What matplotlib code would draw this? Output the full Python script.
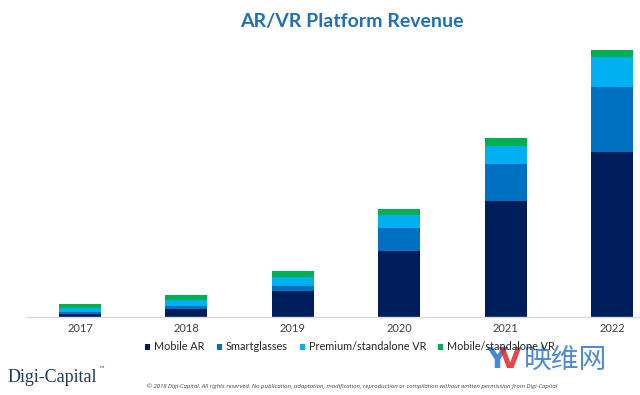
import matplotlib
matplotlib.use("Agg")
import matplotlib.pyplot as plt
from matplotlib.patches import Patch

years = ["2017", "2018", "2019", "2020", "2021", "2022"]
series = ["Mobile AR", "Smartglasses", "Premium/standalone VR", "Mobile/standalone VR"]
mobile_ar = [2.7, 8.3, 26.3, 66.0, 115.7, 165.4]
smartglasses = [2.0, 2.4, 4.4, 23.0, 37.3, 64.3]
premium_vr = [4.6, 6.0, 9.3, 12.7, 18.4, 30.0]
mobile_vr = [3.4, 5.0, 6.3, 6.7, 7.3, 7.0]
colors = ["#001d5b", "#0070c0", "#00b0f0", "#00b050"]

W, H = 640, 395
fig = plt.figure(figsize=(W / 100, H / 100), dpi=100)
fig.patch.set_facecolor("white")

ax = fig.add_axes([26.8 / W, 78 / H, 638.4 / W, 300 / H])
x = list(range(len(years)))
bottom = [0.0] * len(years)
for vals, c in zip([mobile_ar, smartglasses, premium_vr, mobile_vr], colors):
    ax.bar(x, vals, bottom=bottom, width=0.395, color=c, edgecolor="none")
    bottom = [b + v for b, v in zip(bottom, vals)]

ax.set_xlim(-0.5, 5.5)
ax.set_ylim(0, 300)
for s in ["top", "right", "left"]:
    ax.spines[s].set_visible(False)
ax.spines["bottom"].set_color("#d9d9d9")
ax.spines["bottom"].set_linewidth(1.0)
ax.set_yticks([])
ax.set_xticks(x)
ax.set_xticklabels(years, fontsize=8, color="#404040", family="Lato")
ax.tick_params(axis="x", length=0, pad=4)

fig.text(352 / W, 1 - 22 / H, "AR/VR Platform Revenue", ha="center", va="center",
         fontsize=14, fontweight="bold", color="#1f6fb9", family="Lato")

handles = [Patch(facecolor=c, edgecolor="none") for c in colors]
fig.legend(handles, series, loc="center", bbox_to_anchor=(350 / W, 1 - 347 / H),
           ncol=4, frameon=False, handlelength=0.5, handleheight=0.5,
           handletextpad=0.35, columnspacing=1.1, prop={"family": "Lato", "size": 7.8},
           labelcolor="#262626")

fig.text(8 / W, 1 - 378 / H, "Digi-Capital", ha="left", va="center", fontsize=13,
         color="#1d3a57", family="Liberation Serif")
fig.text(98.5 / W, 1 - 370 / H, "™", ha="left", va="center", fontsize=4.5,
         color="#1d3a57", family="DejaVu Sans")
fig.text(352 / W, 1 - 386 / H,
         "© 2018 Digi-Capital. All rights reserved. No publication, adaptation, modification, reproduction or compilation without written permission from Digi-Capital",
         ha="center", va="center", fontsize=4.3, style="italic", color="#404040",
         family="Open Sans")

# watermark
fig.text(497 / W, 1 - 360 / H, "Y", ha="center", va="center", fontsize=21,
         fontweight="bold", color="#2f7fd0", family="DejaVu Sans", alpha=0.9)
fig.text(510 / W, 1 - 360 / H, "V", ha="center", va="center", fontsize=21,
         fontweight="bold", color="#e0282e", family="DejaVu Sans", alpha=0.85)
fig.text(524 / W, 1 - 360 / H, "映维网", ha="left", va="center", fontsize=20,
         color="#3a7fd0", family=["Noto Sans CJK SC", "DejaVu Sans"], alpha=0.9)

fig.savefig("out.png", dpi=100, facecolor="white")
